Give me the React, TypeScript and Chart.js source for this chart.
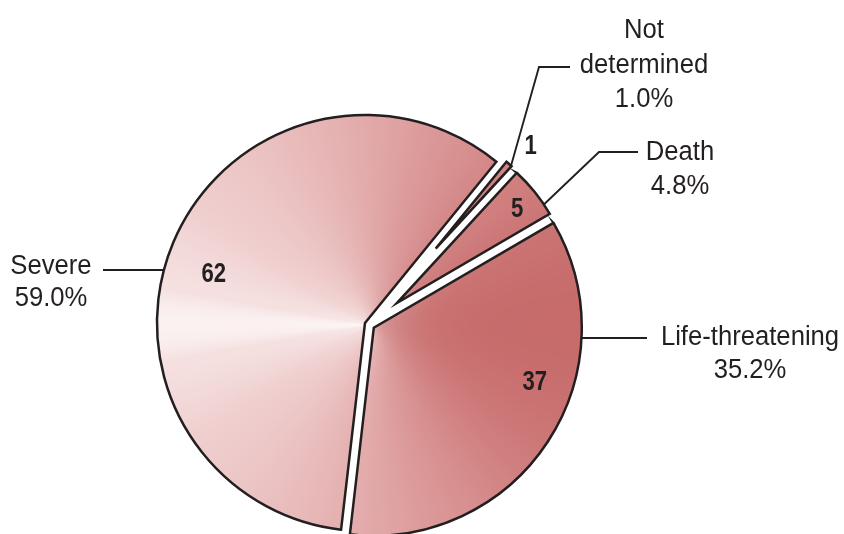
import React, { useEffect, useRef } from 'react';
import { Chart, registerables } from 'chart.js';

Chart.register(...registerables);

// ---- data ----
const categories = ['Severe', 'Not determined', 'Death', 'Life-threatening'];
const counts = [62, 1, 5, 37];
const percentLabels = ['59.0%', '1.0%', '4.8%', '35.2%'];
const nameLines = [['Severe'], ['Not', 'determined'], ['Death'], ['Life-threatening']];

// ---- layout / style ----
const W = 844;
const H = 534;
const CENTER_X = 369.6;
const CENTER_Y = 325;
const BASE_RADIUS = 208;
const ROTATION = 186.6; // Severe starts just left of 6 o'clock
const explode = [5, 101, 35, 5]; // how far each wedge is pulled out
const sliceRadius = [208, 112, 177, 208];
const INK = '#231f20';
const FONT_FAMILY = "'Liberation Sans', Arial, sans-serif";
const NAME_STRETCH = 0.95;
const COUNT_STRETCH = 0.82;

// count label placement: fraction along wedge angle, fraction of wedge radius
const countPos: [number, number][] = [
  [0.478, 0.765],
  [1.05, 1.25],
  [0.54, 0.864],
  [0.384, 0.816],
];

type Callout =
  | { kind: 'horizontal'; y: number; side: -1 | 1; endX: number; textX: number; baselines: number[] }
  | { kind: 'elbow'; frac: number; elbow: [number, number]; endX: number; textX: number; baselines: number[] };

const callouts: Callout[] = [
  { kind: 'horizontal', y: 270, side: -1, endX: 103, textX: 51, baselines: [274, 306] },
  { kind: 'elbow', frac: 0.9, elbow: [539, 67], endX: 570, textX: 644, baselines: [38, 73, 107] },
  { kind: 'elbow', frac: 0.79, elbow: [599, 152], endX: 638, textX: 680, baselines: [160, 194] },
  { kind: 'horizontal', y: 338, side: 1, endX: 647, textX: 750, baselines: [345, 378] },
];

// colour ramp across the pie, keyed on horizontal direction (-1 left .. 1 right)
const shadeStops: [number, number[]][] = [
  [-1, [251, 241, 241]],
  [-0.985, [245, 224, 224]],
  [-0.85, [240, 207, 207]],
  [-0.4, [233, 188, 188]],
  [0, [226, 169, 169]],
  [0.5, [215, 142, 142]],
  [0.85, [204, 118, 118]],
  [1, [199, 107, 107]],
];

function shadeAt(u: number): number[] {
  for (let i = 1; i < shadeStops.length; i++) {
    const [u1, c1] = shadeStops[i];
    const [u0, c0] = shadeStops[i - 1];
    if (u <= u1) {
      const t = (u - u0) / (u1 - u0);
      return [0, 1, 2].map((k) => c0[k] + (c1[k] - c0[k]) * t);
    }
  }
  return shadeStops[shadeStops.length - 1][1];
}

function buildShadeCanvas(): HTMLCanvasElement {
  const off = document.createElement('canvas');
  off.width = W;
  off.height = H;
  const octx = off.getContext('2d')!;
  const img = octx.createImageData(W, H);
  const d = img.data;
  for (let y = 0; y < H; y++) {
    for (let x = 0; x < W; x++) {
      const dx = x + 0.5 - CENTER_X;
      const dy = y + 0.5 - CENTER_Y;
      const r = Math.hypot(dx, dy) || 0.001;
      const u = dx / r;
      const c = shadeAt(u);
      const w = 0.45 * Math.exp(-r / 30);
      const p = (y * W + x) * 4;
      d[p] = c[0] + (255 - c[0]) * w;
      d[p + 1] = c[1] + (255 - c[1]) * w;
      d[p + 2] = c[2] + (255 - c[2]) * w;
      d[p + 3] = 255;
    }
  }
  octx.putImageData(img, 0, 0);
  return off;
}

const explodePlugin = {
  id: 'explodeWedges',
  afterDatasetsUpdate(chart: any) {
    const meta = chart.getDatasetMeta(0);
    meta.data.forEach((arc: any, i: number) => {
      const mid = (arc.startAngle + arc.endAngle) / 2;
      arc.x = arc.x + Math.cos(mid) * explode[i];
      arc.y = arc.y + Math.sin(mid) * explode[i];
      arc.outerRadius = sliceRadius[i];
    });
  },
};

function pointOnWedge(arc: any, frac: number, rFrac: number): [number, number] {
  const a = arc.startAngle + (arc.endAngle - arc.startAngle) * frac;
  const r = arc.outerRadius * rFrac;
  return [arc.x + Math.cos(a) * r, arc.y + Math.sin(a) * r];
}

function drawStretchedText(ctx: CanvasRenderingContext2D, text: string, x: number, y: number, sx: number) {
  ctx.save();
  ctx.translate(x, y);
  ctx.scale(sx, 1);
  ctx.fillText(text, 0, 0);
  ctx.restore();
}

const labelPlugin = {
  id: 'calloutLabels',
  afterDatasetsDraw(chart: any) {
    const ctx: CanvasRenderingContext2D = chart.ctx;
    const meta = chart.getDatasetMeta(0);
    ctx.save();
    ctx.strokeStyle = INK;
    ctx.fillStyle = INK;
    ctx.lineWidth = 1.9;
    ctx.lineJoin = 'miter';

    meta.data.forEach((arc: any, i: number) => {
      const c = callouts[i];
      // leader line
      ctx.beginPath();
      if (c.kind === 'horizontal') {
        const dy = c.y - arc.y;
        const sx = arc.x + c.side * Math.sqrt(Math.max(arc.outerRadius ** 2 - dy * dy, 0));
        ctx.moveTo(sx, c.y);
        ctx.lineTo(c.endX, c.y);
      } else {
        const [sx, sy] = pointOnWedge(arc, c.frac, 1);
        ctx.moveTo(sx, sy);
        ctx.lineTo(c.elbow[0], c.elbow[1]);
        ctx.lineTo(c.endX, c.elbow[1]);
      }
      ctx.stroke();

      // category name and share
      ctx.font = `27px ${FONT_FAMILY}`;
      ctx.textAlign = 'center';
      ctx.textBaseline = 'alphabetic';
      const lines = [...nameLines[i], percentLabels[i]];
      lines.forEach((line, k) => drawStretchedText(ctx, line, c.textX, c.baselines[k], NAME_STRETCH));

      // count
      const [px, py] = pointOnWedge(arc, countPos[i][0], countPos[i][1]);
      ctx.font = `bold 27px ${FONT_FAMILY}`;
      ctx.textBaseline = 'middle';
      drawStretchedText(ctx, String(counts[i]), px, py + 1, COUNT_STRETCH);
    });
    ctx.restore();
  },
};

export default function App() {
  const canvasRef = useRef<HTMLCanvasElement | null>(null);

  useEffect(() => {
    const canvas = canvasRef.current;
    if (!canvas) return;
    const ctx = canvas.getContext('2d')!;
    const shade = ctx.createPattern(buildShadeCanvas(), 'no-repeat');

    const padLeft = 100;
    const padRight = W - (2 * CENTER_X - padLeft);
    const padTop = 116;

    const chart = new Chart(canvas, {
      type: 'pie',
      data: {
        labels: categories,
        datasets: [
          {
            data: counts,
            backgroundColor: shade as any,
            borderColor: INK,
            borderWidth: 2.5,
            borderJoinStyle: 'miter',
            clip: false as any,
          },
        ],
      },
      options: {
        animation: false,
        responsive: false,
        events: [],
        rotation: ROTATION,
        radius: BASE_RADIUS,
        layout: { padding: { left: padLeft, right: padRight, top: padTop, bottom: 0 } },
        plugins: {
          legend: { display: false },
          tooltip: { enabled: false },
        },
      },
      plugins: [explodePlugin, labelPlugin],
    });

    return () => chart.destroy();
  }, []);

  return (
    <div style={{ position: 'fixed', left: 0, top: 0, width: W, height: H, overflow: 'hidden', background: '#fff' }}>
      <canvas ref={canvasRef} width={W} height={H} style={{ display: 'block', width: W, height: H }} />
    </div>
  );
}
